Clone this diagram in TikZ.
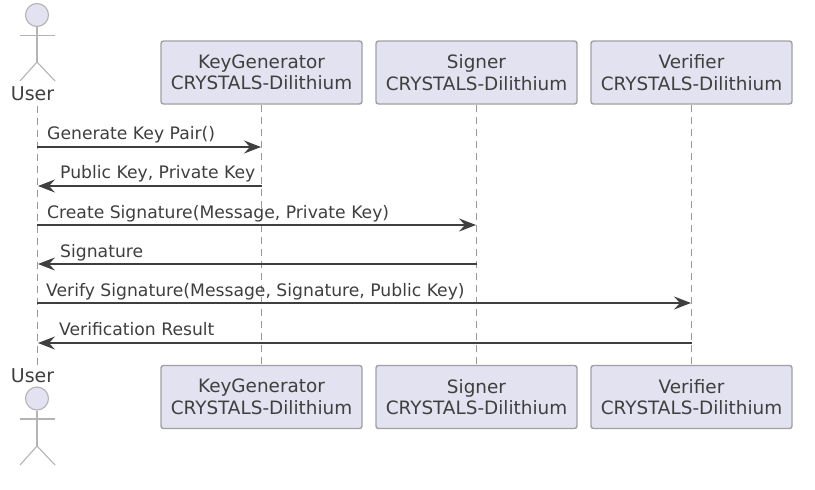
\documentclass[tikz,border=0pt]{standalone}
\usepackage{fontspec}
\setmainfont{DejaVu Sans}
\usetikzlibrary{arrows.meta}
\definecolor{boxfill}{HTML}{E2E2F0}
\definecolor{boxline}{HTML}{A0A0A4}
\definecolor{ink}{HTML}{3F3F3F}
\definecolor{lifeline}{HTML}{999999}
\definecolor{actorline}{HTML}{B4B4B4}
\tikzset{
  x=1pt,y=-1pt,
  part/.style={draw=boxline,fill=boxfill,line width=1.4pt,rounded corners=2.5pt,minimum width=201pt,minimum height=63pt,inner sep=0pt,align=center,text=ink,font=\fontsize{18.4}{21.5}\selectfont},
  lifel/.style={draw=lifeline,line width=1pt,dash pattern=on 7pt off 5pt},
  msg/.style={draw=ink,line width=1.2pt,-{Stealth[length=17pt,width=13pt,inset=6pt]},shorten >=1pt},
  msgl/.style={font=\fontsize{17.2}{20}\selectfont,text=ink,anchor=base west,inner sep=0pt},
  actorlimb/.style={draw=actorline,line width=1.1pt},
  actorhead/.style={circle,draw=actorline,fill=boxfill,line width=1.1pt,minimum size=23pt,inner sep=0pt},
  actorname/.style={font=\fontsize{19}{21}\selectfont,text=ink,anchor=base,inner sep=0pt},
}
\begin{document}
\begin{tikzpicture}
\useasboundingbox (0,0) rectangle (815,490);
\fill[white] (0,0) rectangle (815,490);
% lifeline ends
\coordinate (uT) at (37,106);
\coordinate (uB) at (37,367);
% participants
\node[part] (kT) at (261.5,72.5) {KeyGenerator\\CRYSTALS-Dilithium};
\node[part] (sT) at (476.5,72.5) {Signer\\CRYSTALS-Dilithium};
\node[part] (vT) at (691.5,72.5) {Verifier\\CRYSTALS-Dilithium};
\node[part] (kB) at (261.5,397) {KeyGenerator\\CRYSTALS-Dilithium};
\node[part] (sB) at (476.5,397) {Signer\\CRYSTALS-Dilithium};
\node[part] (vB) at (691.5,397) {Verifier\\CRYSTALS-Dilithium};
\draw[lifel] (uT) -- (uB);
\draw[lifel] (kT) -- (kB);
\draw[lifel] (sT) -- (sB);
\draw[lifel] (vT) -- (vB);
% top actor
\node[actorhead] (hT) at (37,15) {};
\coordinate (bT) at (37,62);
\coordinate (alT) at (20,35.5);
\coordinate (arT) at (55,35.5);
\coordinate (llT) at (20,81);
\coordinate (lrT) at (55,81);
\draw[actorlimb] (hT) -- (bT);
\draw[actorlimb] (alT) -- (arT);
\draw[actorlimb] (llT) -- (bT) -- (lrT);
\node[actorname] (nT) at (32.5,100) {User};
% bottom actor
\node[actorname] (nB) at (32.5,382) {User};
\node[actorhead] (hB) at (37,398.5) {};
\coordinate (bB) at (37,446);
\coordinate (alB) at (20,419);
\coordinate (arB) at (55,419);
\coordinate (llB) at (20,465);
\coordinate (lrB) at (55,465);
\draw[actorlimb] (hB) -- (bB);
\draw[actorlimb] (alB) -- (arB);
\draw[actorlimb] (llB) -- (bB) -- (lrB);
% message anchors
\coordinate (u1) at (37,147);  \coordinate (k1) at (262,147);
\coordinate (u2) at (37,186);  \coordinate (k2) at (262,186);
\coordinate (u3) at (37,225);  \coordinate (s3) at (477,225);
\coordinate (u4) at (37,264);  \coordinate (s4) at (477,264);
\coordinate (u5) at (37,303);  \coordinate (v5) at (692,303);
\coordinate (u6) at (37,343);  \coordinate (v6) at (692,343);
\draw[msg] (u1) -- (k1);
\draw[msg] (k2) -- (u2);
\draw[msg] (u3) -- (s3);
\draw[msg] (s4) -- (u4);
\draw[msg] (u5) -- (v5);
\draw[msg] (v6) -- (u6);
\node[msgl] (m1) at (47,139) {Generate Key Pair()};
\node[msgl] (m2) at (60,178) {Public Key, Private Key};
\node[msgl] (m3) at (47,218) {Create Signature(Message, Private Key)};
\node[msgl] (m4) at (60,257) {Signature};
\node[msgl] (m5) at (46,296) {Verify Signature(Message, Signature, Public Key)};
\node[msgl] (m6) at (59,335) {Verification Result};
\end{tikzpicture}
\end{document}
